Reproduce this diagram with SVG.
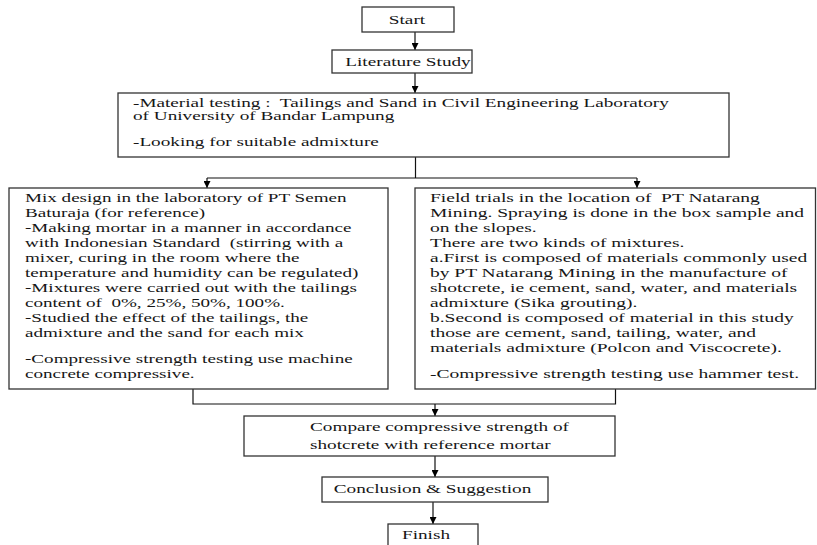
<svg xmlns="http://www.w3.org/2000/svg" width="817" height="545" viewBox="0 0 817 545">
<defs>
<marker id="arr" viewBox="0 0 10 10" refX="10" refY="5" markerWidth="7" markerHeight="7" markerUnits="userSpaceOnUse" orient="auto">
<path d="M0,0 L10,5 L0,10 z" fill="#000"/>
</marker>
</defs>
<style>
.box{fill:#fff;stroke:#333;stroke-width:1.3}
.t{font-family:"Liberation Serif","Times New Roman",serif;font-size:13px;fill:#161616;white-space:pre}
.s{font-size:12.4px}
.c{text-anchor:middle}
.ln{fill:none;stroke:#111;stroke-width:1.2}
</style>
<rect width="817" height="545" fill="#fff"/>
<g id="connectors">
<path class="ln" d="M415,32 V50" marker-end="url(#arr)"/>
<path class="ln" d="M415,73 V93" marker-end="url(#arr)"/>
<path class="ln" d="M415.5,157 V178"/>
<path class="ln" d="M207,178 H637"/>
<path class="ln" d="M207,178 V188" marker-end="url(#arr)"/>
<path class="ln" d="M637,178 V188" marker-end="url(#arr)"/>
<path class="ln" d="M193,389 V404 H615.5 V389"/>
<path class="ln" d="M435,404 V416" marker-end="url(#arr)"/>
<path class="ln" d="M435,456 V477" marker-end="url(#arr)"/>
<path class="ln" d="M433,502 V524" marker-end="url(#arr)"/>
</g>
<g id="start">
<rect class="box" x="362" y="7" width="92" height="25"/>
<g transform="translate(407,0) scale(1.48,1)"><text class="t c" y="24">Start</text></g>
</g>
<g id="literature">
<rect class="box" x="332" y="50" width="140" height="23"/>
<g transform="translate(408,0) scale(1.48,1)"><text class="t c" y="66">Literature Study</text></g>
</g>
<g id="material">
<rect class="box" x="118" y="93" width="611" height="64"/>
<g transform="translate(133,0) scale(1.55,1)">
<text class="t s" y="107">-Material testing :  Tailings and Sand in Civil Engineering Laboratory</text>
<text class="t s" y="120.5">of University of Bandar Lampung</text>
<text class="t s" y="146">-Looking for suitable admixture</text>
</g>
</g>
<g id="mixdesign">
<rect class="box" x="9" y="188" width="379" height="201"/>
<g transform="translate(25,0) scale(1.47,1)">
<text class="t" y="201.7">Mix design in the laboratory of PT Semen</text>
<text class="t" y="216.7">Baturaja (for reference)</text>
<text class="t" y="231.7">-Making mortar in a manner in accordance</text>
<text class="t" y="246.7">with Indonesian Standard  (stirring with a</text>
<text class="t" y="261.7">mixer, curing in the room where the</text>
<text class="t" y="276.7">temperature and humidity can be regulated)</text>
<text class="t" y="291.7">-Mixtures were carried out with the tailings</text>
<text class="t" y="306.7">content of  0%, 25%, 50%, 100%.</text>
<text class="t" y="321.7">-Studied the effect of the tailings, the</text>
<text class="t" y="336.7">admixture and the sand for each mix</text>
<text class="t" y="362.7">-Compressive strength testing use machine</text>
<text class="t" y="377.7">concrete compressive.</text>
</g>
</g>
<g id="fieldtrials">
<rect class="box" x="415" y="188" width="400.5" height="201"/>
<g transform="translate(430,0) scale(1.5,1)">
<text class="t" y="201.7">Field trials in the location of  PT Natarang</text>
<text class="t" y="216.7">Mining. Spraying is done in the box sample and</text>
<text class="t" y="231.7">on the slopes.</text>
<text class="t" y="246.7">There are two kinds of mixtures.</text>
<text class="t" y="261.7">a.First is composed of materials commonly used</text>
<text class="t" y="276.7">by PT Natarang Mining in the manufacture of</text>
<text class="t" y="291.7">shotcrete, ie cement, sand, water, and materials</text>
<text class="t" y="306.7">admixture (Sika grouting).</text>
<text class="t" y="321.7">b.Second is composed of material in this study</text>
<text class="t" y="336.7">those are cement, sand, tailing, water, and</text>
<text class="t" y="351.7">materials admixture (Polcon and Viscocrete).</text>
<text class="t" y="377.7">-Compressive strength testing use hammer test.</text>
</g>
</g>
<g id="compare">
<rect class="box" x="244" y="416" width="371" height="40"/>
<g transform="translate(310,0) scale(1.48,1)">
<text class="t" y="431">Compare compressive strength of</text>
<text class="t" y="449">shotcrete with reference mortar</text>
</g>
</g>
<g id="conclusion">
<rect class="box" x="322" y="477" width="226" height="25"/>
<g transform="translate(432.5,0) scale(1.48,1)"><text class="t c" y="493">Conclusion &amp; Suggestion</text></g>
</g>
<g id="finish">
<rect class="box" x="388" y="524" width="90" height="26"/>
<g transform="translate(426,0) scale(1.48,1)"><text class="t c" y="539">Finish</text></g>
</g>
</svg>
